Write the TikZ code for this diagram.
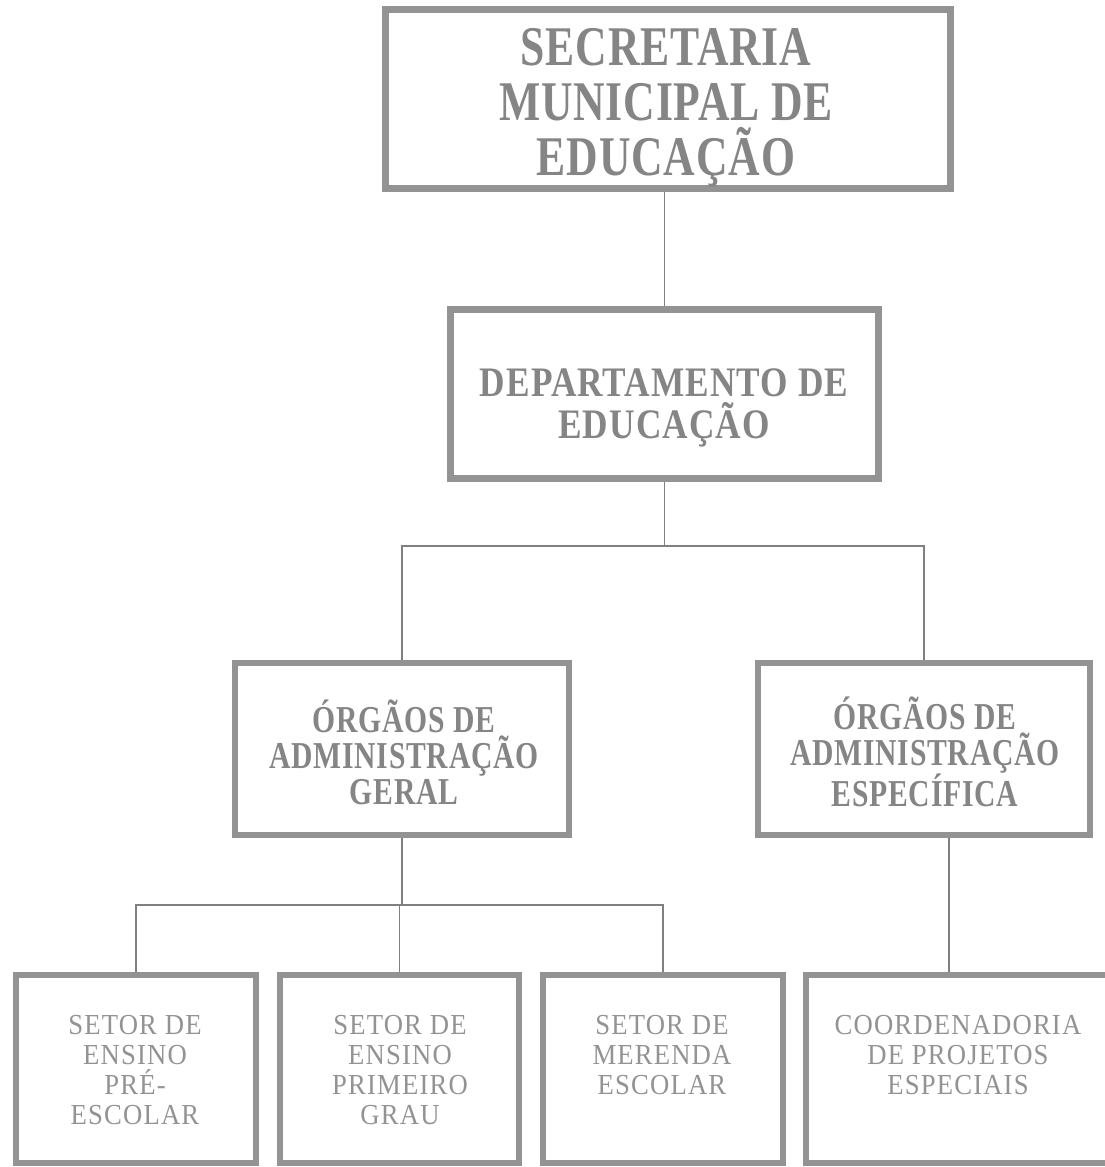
\documentclass[tikz,border=0pt]{standalone}
\usepackage{fontspec}
\setmainfont{Liberation Serif}
\newfontfamily\ftopfont[FakeStretch=0.78,LetterSpace=1.5]{Liberation Serif}
\newfontfamily\fdepfont[FakeStretch=0.84,LetterSpace=2.5]{Liberation Serif}
\newfontfamily\fmidfont[FakeStretch=0.78,LetterSpace=2]{Liberation Serif}
\newfontfamily\fbotfont[FakeStretch=0.92,LetterSpace=4]{Liberation Serif}
\definecolor{boxgray}{HTML}{939393}
\definecolor{linegray}{HTML}{808080}
\definecolor{txtgray}{HTML}{858585}
\definecolor{txtlight}{HTML}{939393}
\begin{document}
\begin{tikzpicture}[x=1pt,y=-1pt,
  orgbox/.style={draw=boxgray,rectangle,inner sep=0pt,fill=none},
  conn/.style={draw=linegray,line width=1.2pt},
  ttop/.style={align=center,text=txtgray,inner sep=0pt,font=\ftopfont\bfseries\fontsize{56}{55}\selectfont},
  tdep/.style={align=center,text=txtgray,inner sep=0pt,font=\fdepfont\bfseries\fontsize{42}{42}\selectfont},
  tmid/.style={align=center,text=txtgray,inner sep=0pt,font=\fmidfont\bfseries\fontsize{38}{36}\selectfont},
  tbot/.style={align=center,text=txtlight,inner sep=0pt,anchor=north,font=\fbotfont\fontsize{29}{30}\selectfont}]
\useasboundingbox (0,0) rectangle (1105,1167);
\clip (0,0) rectangle (1105,1167);
\fill[white] (0,0) rectangle (1105,1167);
% boxes
\node[orgbox,line width=7pt,minimum width=565pt,minimum height=179pt] (sec) at (668,99) {};
\node[orgbox,line width=7pt,minimum width=428pt,minimum height=169pt] (dep) at (664.5,394) {};
\node[orgbox,line width=6pt,minimum width=334pt,minimum height=172pt] (oag) at (402,749) {};
\node[orgbox,line width=6pt,minimum width=332pt,minimum height=172pt] (oae) at (924,749) {};
\node[orgbox,line width=6pt,minimum width=240pt,minimum height=188pt] (s1) at (136,1069) {};
\node[orgbox,line width=6pt,minimum width=239pt,minimum height=188pt] (s2) at (399.5,1069) {};
\node[orgbox,line width=6pt,minimum width=240pt,minimum height=188pt] (s3) at (663,1069) {};
\node[orgbox,line width=6pt,minimum width=306pt,minimum height=188pt] (s4) at (959,1069) {};
% texts
\node[ttop] (tsec) at (666,108) {SECRETARIA\\MUNICIPAL DE\\EDUCAÇÃO};
\node[tdep] (tdep) at (664,408) {DEPARTAMENTO DE\\EDUCAÇÃO};
\node[tmid] (toag) at (404,752) {ÓRGÃOS DE\\ADMINISTRAÇÃO\\GERAL};
\node[tmid] (toae) at (925,752) {ÓRGÃOS DE\\ADMINISTRAÇÃO\\ESPECÍFICA};
\node[tbot] (ts1) at (135,1015) {SETOR DE\\ENSINO\\PRÉ-\\ESCOLAR};
\node[tbot] (ts2) at (400,1015) {SETOR DE\\ENSINO\\PRIMEIRO\\GRAU};
\node[tbot] (ts3) at (662,1015) {SETOR DE\\MERENDA\\ESCOLAR};
\node[tbot] (ts4) at (958,1015) {COORDENADORIA\\DE PROJETOS\\ESPECIAIS};
% connectors
\coordinate (j1) at (663,546);
\coordinate (j2) at (0,905);
\coordinate (k4) at (949,0);
\draw[conn] (dep.north |- sec.south) -- (dep.north);
\draw[conn] (dep.south) -- (dep.south |- j1);
\draw[conn] (oag.north) |- (oae.north |- j1) -- (oae.north);
\draw[conn] (oag.south) -- (oag.south |- j2);
\draw[conn] (s1.north) |- (s3.north |- j2) -- (s3.north);
\draw[conn] (s2.north) -- (s2.north |- j2);
\draw[conn] (k4 |- oae.south) -- (k4 |- s4.north);
\end{tikzpicture}
\end{document}
